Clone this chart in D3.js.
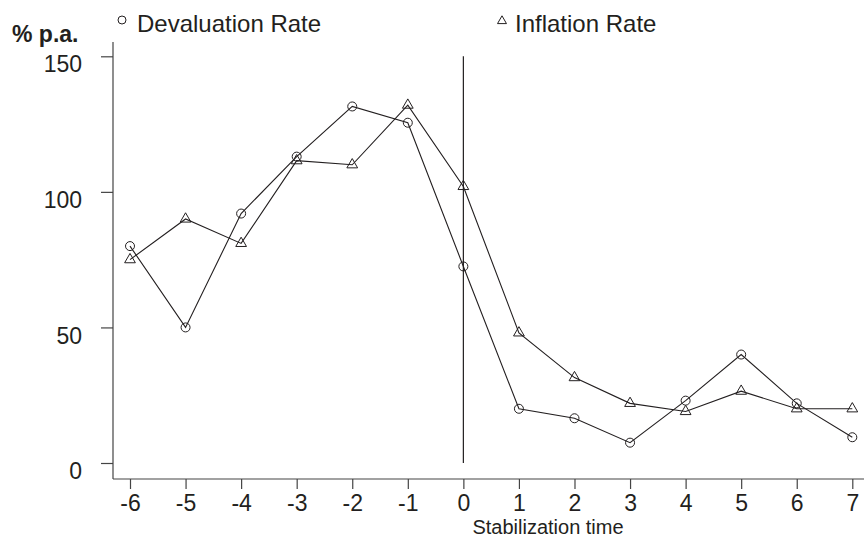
<!DOCTYPE html>
<html>
<head>
<meta charset="utf-8">
<script src="https://cdn.jsdelivr.net/npm/d3@7"></script>
<style>
  body { margin: 0; background: #fff; }
  text { font-family: "Liberation Sans", Arial, sans-serif; fill: #231f20; }
</style>
</head>
<body>
<svg width="864" height="539"></svg>
<script>
var periods = [-6, -5, -4, -3, -2, -1, 0, 1, 2, 3, 4, 5, 6, 7];
var devaluation = [80, 50, 92, 113, 131.5, 125.5, 72.5, 20, 16.5, 7.5, 23, 40, 22, 9.5];
var inflation = [75, 90, 81, 111.5, 110, 132, 102, 48, 31.5, 22, 19, 26.5, 20, 20];
var yTicks = [0, 50, 100, 150];

var svg = d3.select("svg"),
    width = +svg.attr("width"),
    height = +svg.attr("height");

var ink = "#231f20";

var x = d3.scaleLinear().domain([-6, 7]).range([130, 852.3]);
var y = d3.scaleLinear().domain([0, 150]).range([463, 56.3]);

// axes
var xAxis = svg.append("g")
    .attr("transform", "translate(0,479)")
    .call(d3.axisBottom(x).tickValues(periods).tickSize(10).tickPadding(6)
      .tickFormat(function(d) { return String(d); }));
xAxis.select(".domain").attr("d", "M113,0H864");
xAxis.selectAll("text").style("font-size", "23px").attr("fill", ink);

var yAxis = svg.append("g")
    .attr("transform", "translate(113,0)")
    .call(d3.axisLeft(y).tickValues(yTicks).tickSize(12).tickPadding(19));
yAxis.select(".domain").attr("d", "M0,42V479");
yAxis.selectAll("text").style("font-size", "23px").attr("fill", ink).attr("dy", "0.68em");

svg.selectAll(".domain, .tick line").attr("stroke", "#444").attr("stroke-width", 1.2);

svg.append("text")
    .attr("x", 12).attr("y", 42)
    .style("font-size", "23px").style("font-weight", "bold")
    .text("% p.a.");

svg.append("text")
    .attr("x", 548).attr("y", 534)
    .attr("text-anchor", "middle")
    .style("font-size", "20px")
    .text("Stabilization time");

// stabilization marker
svg.append("line")
    .attr("x1", x(0)).attr("x2", x(0))
    .attr("y1", y(150)).attr("y2", y(0))
    .attr("stroke", ink).attr("stroke-width", 1.2);

var line = d3.line()
    .x(function(d, i) { return x(periods[i]); })
    .y(function(d) { return y(d); });

[devaluation, inflation].forEach(function(s) {
  svg.append("path")
      .datum(s)
      .attr("d", line)
      .attr("fill", "none")
      .attr("stroke", ink)
      .attr("stroke-width", 1.1);
});

var tri = d3.symbol().type(d3.symbolTriangle).size(50);

svg.append("g").selectAll("circle")
    .data(devaluation)
  .enter().append("circle")
    .attr("cx", function(d, i) { return x(periods[i]); })
    .attr("cy", function(d) { return y(d); })
    .attr("r", 4.5)
    .attr("fill", "none")
    .attr("stroke", ink);

svg.append("g").selectAll("path")
    .data(inflation)
  .enter().append("path")
    .attr("d", tri)
    .attr("transform", function(d, i) { return "translate(" + x(periods[i]) + "," + y(d) + ")"; })
    .attr("fill", "none")
    .attr("stroke", ink);

// legend
var legend = svg.append("g");
legend.append("circle")
    .attr("cx", 122).attr("cy", 20).attr("r", 4)
    .attr("fill", "none").attr("stroke", ink);
legend.append("text")
    .attr("x", 137).attr("y", 32)
    .style("font-size", "24px")
    .text("Devaluation Rate");
legend.append("path")
    .attr("d", d3.symbol().type(d3.symbolTriangle).size(35))
    .attr("transform", "translate(502,21)")
    .attr("fill", "none").attr("stroke", ink);
legend.append("text")
    .attr("x", 515).attr("y", 32)
    .style("font-size", "24px")
    .text("Inflation Rate");
</script>
</body>
</html>
